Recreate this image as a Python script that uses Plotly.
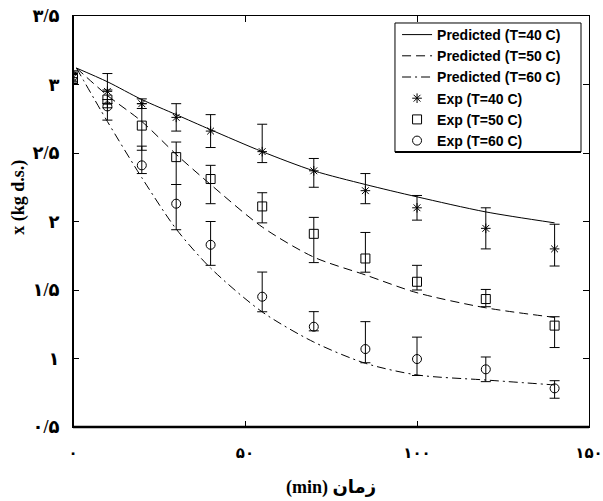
import plotly.graph_objects as go

# Drying time (min) for measured and model points
t_exp = [0, 10, 20, 30, 40, 55, 70, 85, 100, 120, 140]
t_pred = [1, 10, 20, 30, 40, 55, 70, 85, 100, 120, 140]

# Model predictions, moisture content x (kg/kg d.s.)
pred_40 = [3.12, 3.02, 2.89, 2.78, 2.67, 2.51, 2.37, 2.27, 2.18, 2.07, 1.99]
pred_50 = [3.12, 2.92, 2.73, 2.49, 2.27, 1.96, 1.74, 1.61, 1.48, 1.37, 1.30]
pred_60 = [3.12, 2.73, 2.32, 1.945, 1.66, 1.34, 1.12, 0.965, 0.88, 0.843, 0.807]

# Experimental means with upper / lower error
exp_40 = [3.05, 2.95, 2.86, 2.76, 2.66, 2.51, 2.37, 2.225, 2.10, 1.95, 1.80]
exp_40_up = [0.04, 0.13, 0.035, 0.10, 0.12, 0.20, 0.09, 0.125, 0.09, 0.15, 0.18]
exp_40_dn = [0.04, 0.12, 0.035, 0.10, 0.12, 0.08, 0.12, 0.095, 0.09, 0.15, 0.125]

exp_50 = [3.04, 2.89, 2.70, 2.47, 2.31, 2.11, 1.91, 1.73, 1.56, 1.434, 1.24]
exp_50_up = [0.04, 0.07, 0.16, 0.11, 0.10, 0.10, 0.12, 0.19, 0.12, 0.07, 0.065]
exp_50_dn = [0.04, 0.03, 0.18, 0.20, 0.18, 0.12, 0.21, 0.10, 0.06, 0.056, 0.16]

exp_60 = [3.06, 2.84, 2.41, 2.13, 1.83, 1.451, 1.232, 1.069, 0.996, 0.921, 0.782]
exp_60_up = [0.04, 0.05, 0.14, 0.14, 0.17, 0.18, 0.11, 0.20, 0.16, 0.09, 0.056]
exp_60_dn = [0.04, 0.10, 0.06, 0.19, 0.15, 0.11, 0.03, 0.10, 0.12, 0.09, 0.072]

# Axis ticks in Persian numerals
x_ticks = [0, 50, 100, 150]
x_tick_text = ["۰", "۵۰", "۱۰۰", "۱۵۰"]
y_ticks = [0.5, 1, 1.5, 2, 2.5, 3, 3.5]
y_tick_text = ["۰/۵", "۱", "۱/۵", "۲", "۲/۵", "۳", "۳/۵"]

serif = "Liberation Serif, DejaVu Serif, DejaVu Sans, serif"
sans = "Liberation Sans, Arial, sans-serif"

fig = go.Figure()

line_styles = [
    ("Predicted (T=40 C)", pred_40, "solid"),
    ("Predicted (T=50 C)", pred_50, "9px,5px"),
    ("Predicted (T=60 C)", pred_60, "9px,4px,2px,4px"),
]
for name, ys, dash in line_styles:
    fig.add_trace(go.Scatter(
        x=t_pred, y=ys, mode="lines", name=name,
        line=dict(color="black", width=1, dash=dash, shape="spline", smoothing=0.8),
    ))

marker_styles = [
    ("Exp (T=40 C)", exp_40, exp_40_up, exp_40_dn, "asterisk-open", 8),
    ("Exp (T=50 C)", exp_50, exp_50_up, exp_50_dn, "square-open", 9),
    ("Exp (T=60 C)", exp_60, exp_60_up, exp_60_dn, "circle-open", 9),
]
for name, ys, up, dn, sym, size in marker_styles:
    fig.add_trace(go.Scatter(
        x=t_exp, y=ys, mode="markers", name=name,
        marker=dict(symbol=sym, size=size, color="black", line=dict(color="black", width=1)),
        error_y=dict(type="data", symmetric=False, array=up, arrayminus=dn,
                     color="black", thickness=1, width=5),
    ))

axis_common = dict(
    showgrid=False, zeroline=False, showline=True, linecolor="black", linewidth=1,
    mirror="ticks", ticks="inside", ticklen=6, tickwidth=1, tickcolor="black",
    ticklabeloverflow="allow", automargin=False,
)

fig.update_xaxes(
    range=[0, 150], tickvals=x_ticks, ticktext=x_tick_text, ticklabelstandoff=12,
    tickfont=dict(family=serif, size=15, color="black", weight="bold"),
    title=dict(text="\u202bزمان (min)\u202c", font=dict(family=serif, size=18, color="black", weight="bold"),
               standoff=20),
    **axis_common,
)
fig.update_yaxes(
    range=[0.5, 3.5], tickvals=y_ticks, ticktext=y_tick_text, ticklabelstandoff=9,
    tickfont=dict(family=serif, size=18, color="black", weight="bold"),
    **axis_common,
)

# y-axis caption placed to the left of the tick labels
fig.add_annotation(
    text="x (kg d.s.)", textangle=-90, showarrow=False,
    xref="paper", yref="paper", x=-0.105, y=0.56, xanchor="center", yanchor="middle",
    font=dict(family=serif, size=18, color="black", weight="bold"),
)

# heavier left and bottom frame lines
fig.add_shape(type="line", xref="paper", yref="paper", x0=0, x1=0, y0=0, y1=1,
              line=dict(color="black", width=2))
fig.add_shape(type="line", xref="paper", yref="paper", x0=0, x1=1, y0=0, y1=0,
              line=dict(color="black", width=2.5))

# legend frame
fig.add_shape(type="rect", xref="paper", yref="paper", x0=0.624, x1=0.9845, y0=0.669, y1=0.983,
              line=dict(color="black", width=1), fillcolor="white", layer="above")
fig.add_shape(type="line", xref="paper", yref="paper", x0=0.624, x1=0.9845, y0=0.669, y1=0.669,
              line=dict(color="black", width=2))

fig.update_layout(
    width=603, height=501,
    margin=dict(l=73, r=14, t=16, b=74, autoexpand=False),
    paper_bgcolor="white", plot_bgcolor="white",
    showlegend=True,
    legend=dict(
        x=0.628, xanchor="left", y=0.9927, yanchor="top",
        bgcolor="rgba(0,0,0,0)", borderwidth=0,
        font=dict(family=sans, size=14, color="black", weight="bold"),
        tracegroupgap=0,
    ),
)

fig.write_html("out.html")
